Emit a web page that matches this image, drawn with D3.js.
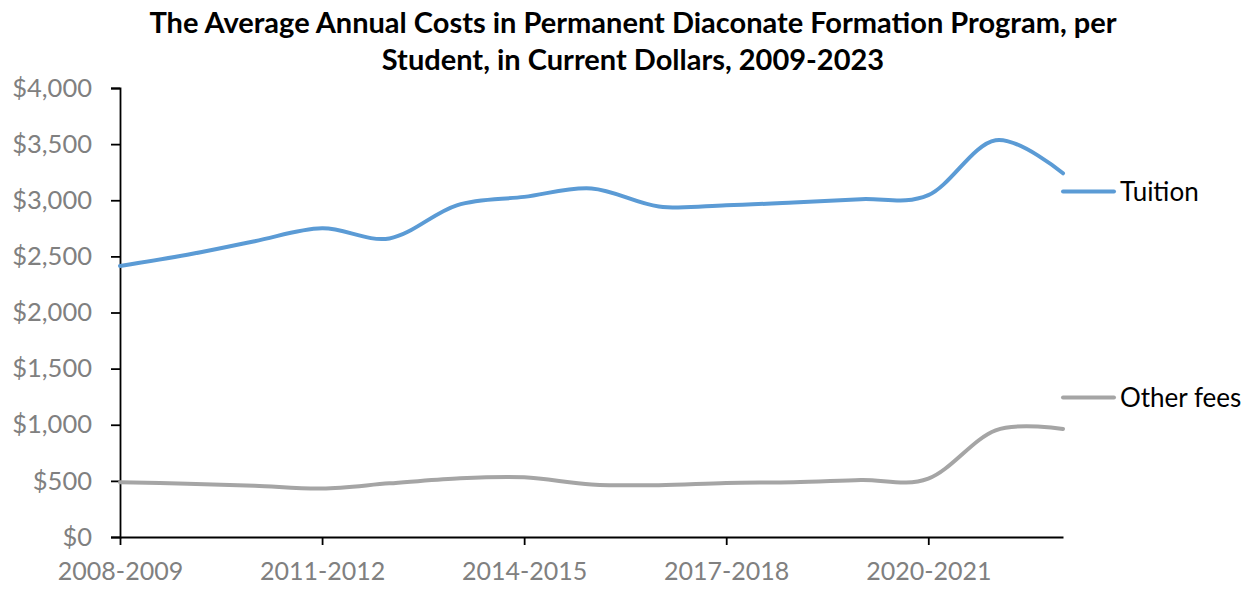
<!DOCTYPE html>
<html>
<head>
<meta charset="utf-8">
<script src="https://cdn.jsdelivr.net/npm/d3@7"></script>
<style>
  html, body { margin: 0; padding: 0; background: #fff; }
  svg { display: block; font-family: Lato, "Open Sans", sans-serif; }
</style>
</head>
<body>
<svg id="chart" width="1252" height="589"></svg>
<script>
// Academic years on the horizontal axis
const years = ["2008-2009", "2009-2010", "2010-2011", "2011-2012", "2012-2013",
  "2013-2014", "2014-2015", "2015-2016", "2016-2017", "2017-2018",
  "2018-2019", "2019-2020", "2020-2021", "2021-2022", "2022-2023"];

// Average annual cost per student, current dollars
const tuition = [2415, 2515, 2635, 2750, 2660, 2955, 3030, 3105, 2945, 2955,
  2980, 3010, 3045, 3535, 3240];
const otherFees = [488, 475, 457, 432, 478, 522, 532, 468, 462, 482,
  488, 508, 520, 950, 962];

// Year labels that are printed under the axis
const yearTicks = ["2008-2009", "2011-2012", "2014-2015", "2017-2018", "2020-2021"];
const dollarTicks = [0, 500, 1000, 1500, 2000, 2500, 3000, 3500, 4000];

const titleLines = [
  "The Average Annual Costs in Permanent Diaconate Formation Program, per",
  "Student, in Current Dollars, 2009-2023"
];

const series = [
  { name: "Tuition", values: tuition, color: "#5B9BD5" },
  { name: "Other fees", values: otherFees, color: "#A5A5A5" }
];

const svg = d3.select("#chart");

const x = d3.scalePoint().domain(years).range([120, 1063]);
const y = d3.scaleLinear().domain([0, 4000]).range([537, 88]);

// Title
svg.append("g")
  .selectAll("text")
  .data(titleLines)
  .join("text")
  .attr("x", 633)
  .attr("y", (d, i) => 33 + i * 37)
  .attr("text-anchor", "middle")
  .attr("font-weight", "bold")
  .attr("font-size", 29)
  .attr("fill", "#000")
  .text(d => d);

// Y axis
const yAxis = svg.append("g")
  .attr("transform", "translate(120,0)")
  .call(d3.axisLeft(y).tickValues(dollarTicks).tickSize(9).tickPadding(19)
    .tickFormat(d => "$" + d3.format(",")(d)));
yAxis.select(".domain").attr("stroke", "#000").attr("stroke-width", 1.8);
yAxis.selectAll(".tick line").attr("stroke", "#000").attr("stroke-width", 1.8);
yAxis.selectAll(".tick text")
  .attr("font-size", 25.5)
  .attr("font-family", "Lato, sans-serif")
  .attr("fill", "#808080");

// X axis
const xAxis = svg.append("g")
  .attr("transform", "translate(0,537)")
  .call(d3.axisBottom(x).tickValues(yearTicks).tickSize(8).tickSizeOuter(0).tickPadding(17));
xAxis.select(".domain").attr("stroke", "#000").attr("stroke-width", 1.8);
xAxis.selectAll(".tick line").attr("stroke", "#000").attr("stroke-width", 1.8);
xAxis.selectAll(".tick text")
  .attr("font-size", 25)
  .attr("font-family", "Lato, sans-serif")
  .attr("fill", "#808080");

// Smoothed series lines
const line = d3.line()
  .x((d, i) => x(years[i]))
  .y(d => y(d))
  .curve(d3.curveCardinal.tension(0));

svg.append("g")
  .selectAll("path")
  .data(series)
  .join("path")
  .attr("d", d => line(d.values))
  .attr("fill", "none")
  .attr("stroke", d => d.color)
  .attr("stroke-width", 4)
  .attr("stroke-linecap", "round");

// Legend on the right
const legendY = { "Tuition": 191.5, "Other fees": 397.5 };
const legend = svg.append("g")
  .selectAll("g")
  .data(series)
  .join("g")
  .attr("transform", d => `translate(1063,${legendY[d.name]})`);
legend.append("line")
  .attr("x1", 0).attr("x2", 51)
  .attr("stroke", d => d.color)
  .attr("stroke-width", 4)
  .attr("stroke-linecap", "round");
legend.append("text")
  .attr("x", 57)
  .attr("dy", "0.36em")
  .attr("font-size", 26)
  .attr("fill", "#000")
  .text(d => d.name);
</script>
</body>
</html>
